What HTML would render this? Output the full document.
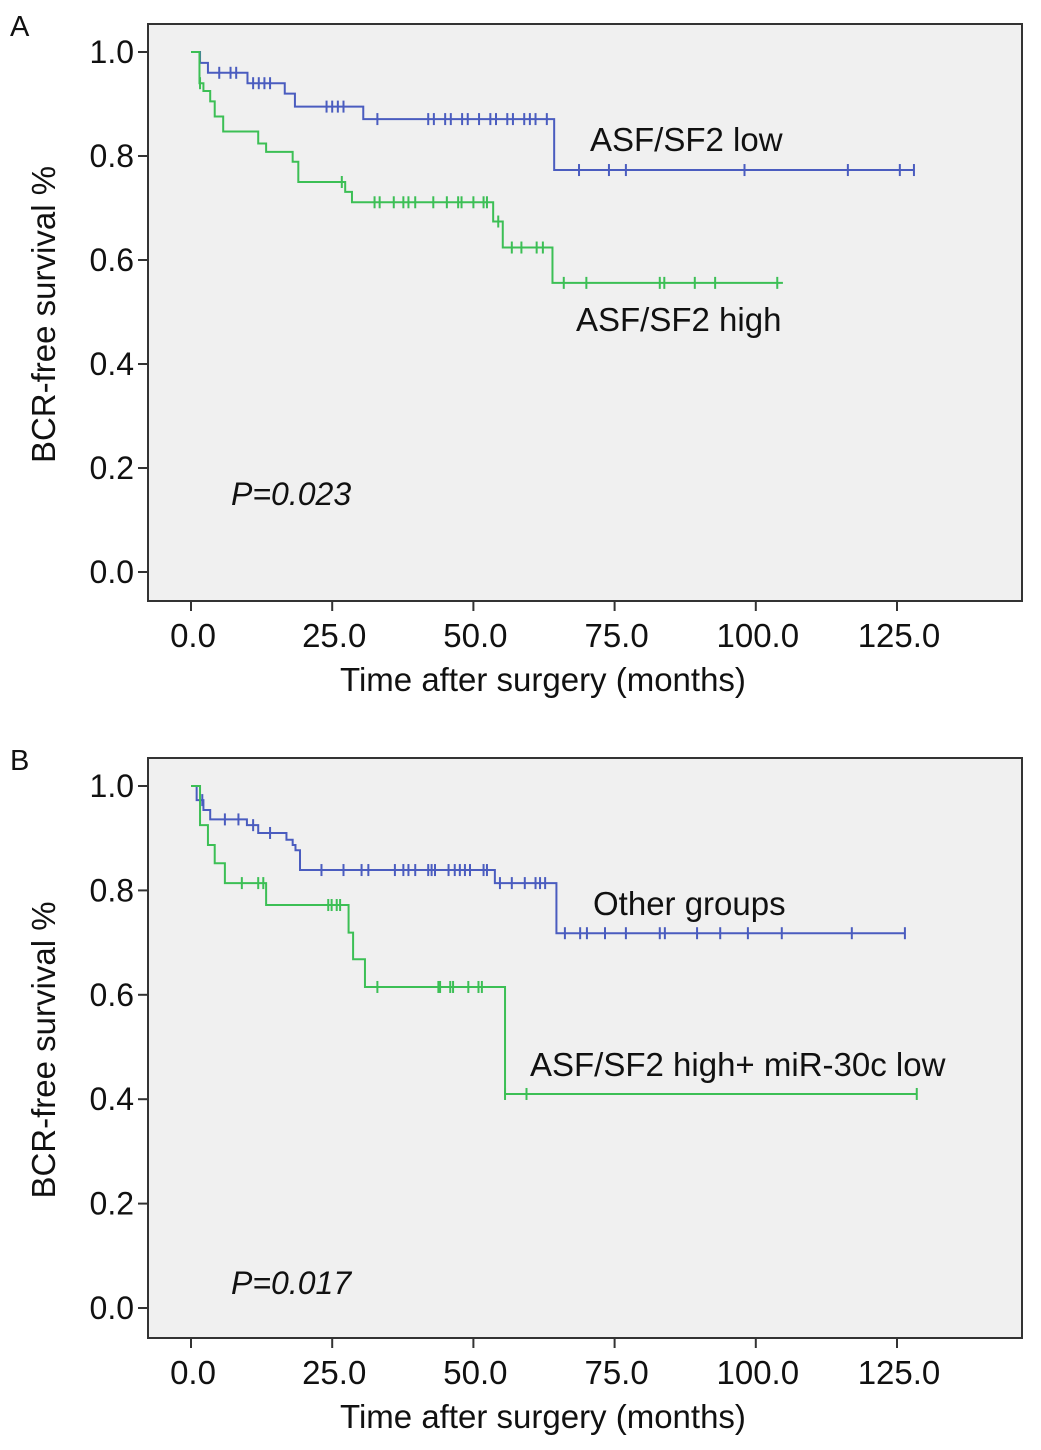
<!DOCTYPE html>
<html><head><meta charset="utf-8"><style>
body{margin:0;background:#fff;}
svg{display:block;font-family:"Liberation Sans",Arial,sans-serif;}
</style></head><body>
<svg id="fig" width="1041" height="1450" viewBox="0 0 1041 1450"></svg>
<script>
// Panel A data
const aLowEvents=[[1.6,0.979],[3,0.96],[10,0.94],[16.6,0.92],[18.4,0.895],[30.5,0.871],[64.3,0.773]];
const aLowCensor=[5,7,8,11,12,13,14,24,25,26,27,33,42,43,45,46,48,49,51,53,54,56,57,59,60,61,63,68.7,74,77,98,116.3,125.5,128];
const aLowEnd=128;
const aHighEvents=[[1.5,0.94],[2.2,0.925],[3.4,0.905],[4.2,0.876],[5.7,0.847],[11.9,0.824],[13.3,0.808],[18,0.789],[19,0.75],[27.3,0.731],[28.5,0.711],[53.5,0.674],[55.2,0.624],[64,0.556]];
const aHighCensor=[1.6,26.7,32.5,33.4,35.9,37.6,38.5,39.7,42.9,45.3,47.3,47.9,50,51.8,52.4,54.4,56.8,58.5,61.2,62.3,66,70,83,83.8,89.2,92.8,103.8];
const aHighEnd=104.8;
// Panel B data
const bOtherEvents=[[1,0.973],[2.2,0.954],[3.4,0.936],[9.9,0.925],[11.9,0.91],[16.9,0.897],[18,0.887],[18.5,0.877],[19.3,0.839],[53.8,0.814],[64.7,0.718]];
const bOtherCensor=[2,6,8.4,11,14,23.1,27,30.2,31.4,36.1,37.6,38.5,39.7,42,42.6,43.2,45.6,46.7,47.6,48.5,49.4,51.8,52.4,54.7,56.8,59.1,61,61.8,62.7,66.2,68.9,70.1,73.3,77,83,83.9,89.6,93.7,98.6,104.6,117,126.4];
const bOtherEnd=126.4;
const bHighEvents=[[1.6,0.925],[3,0.887],[4.2,0.852],[6,0.814],[13.3,0.772],[27.9,0.719],[28.7,0.668],[30.8,0.615],[55.6,0.41]];
const bHighCensor=[9,11.9,12.8,24.3,24.9,25.8,26.4,33,43.8,44.1,45.9,46.4,49.1,50.9,51.5,55.6,59.4,128.5];
const bHighEnd=128.5;
const xTicks=[0,25,50,75,100,125];
const xTickLabels=["0.0","25.0","50.0","75.0","100.0","125.0"];
const yTicks=[0,0.2,0.4,0.6,0.8,1.0];
const yTickLabels=["0.0","0.2","0.4","0.6","0.8","1.0"];

const NS="http://www.w3.org/2000/svg";
const svg=document.getElementById('fig');
function mk(tag,attrs,parent){const e=document.createElementNS(NS,tag);for(const k in attrs)e.setAttribute(k,attrs[k]);(parent||svg).appendChild(e);return e;}

function panel(cfg){
  const g=mk('g',{});
  
  
  const X=t=>191+t*(706/125);
  const Y=s=>cfg.y0-s*(cfg.y0-cfg.y1);
  const bg=mk('rect',{x:148,y:cfg.top,width:874,height:cfg.bottom-cfg.top,fill:'#f0f0f0',stroke:'#333','stroke-width':2},g);
  
  
  const pl=mk('text',{x:10,y:cfg.top+12,'font-size':29,fill:'#111'},g);
  pl.textContent=cfg.letter;
  
  
  yTicks.forEach((v,i)=>{
    const y=Y(v);
    mk('line',{x1:138,x2:148,y1:y,y2:y,stroke:'#333','stroke-width':2},g);
    const t=mk('text',{x:134,y:y+11,'font-size':32,'text-anchor':'end',fill:'#111'},g);
    t.textContent=yTickLabels[i];
    
    
  });
  xTicks.forEach((v,i)=>{
    const x=X(v);
    mk('line',{x1:x,x2:x,y1:cfg.bottom,y2:cfg.bottom+10,stroke:'#333','stroke-width':2},g);
    const t=mk('text',{x:x+2,y:cfg.bottom+46,'font-size':33,'text-anchor':'middle',fill:'#111'},g);
    t.textContent=xTickLabels[i];
    
    
  });
  const xt=mk('text',{x:543,y:cfg.bottom+90,'font-size':33,'text-anchor':'middle',fill:'#111'},g);
  xt.textContent='Time after surgery (months)';
  
  
  const cy=(cfg.top+cfg.bottom)/2+2;
  const yt=mk('text',{x:55,y:cy,'font-size':33,'text-anchor':'middle',fill:'#111',transform:`rotate(-90 55 ${cy})`},g);
  yt.textContent='BCR-free survival %';
  
  
  cfg.series.forEach(s=>{
    let d=`M${X(0)},${Y(1)}`;
    s.events.forEach(([t,v])=>{d+=` H${X(t)} V${Y(v)}`;});
    d+=` H${X(s.end)}`;
    const p=mk('path',{d:d,fill:'none',stroke:s.color,'stroke-width':2},g);
    
    
    s.censor.forEach(t=>{
      let v=1;s.events.forEach(([et,ev])=>{if(et<=t)v=ev;});
      const c=mk('line',{x1:X(t),x2:X(t),y1:Y(v)-6,y2:Y(v)+6,stroke:s.color,'stroke-width':2},g);
      
      
    });
    const lb=mk('text',{x:s.lx,y:s.ly,'font-size':33,fill:'#111'},g);
    lb.textContent=s.label;
    
    
  });
  const pv=mk('text',{x:cfg.px,y:cfg.py,'font-size':32,'font-style':'italic',fill:'#111'},g);
  pv.textContent=cfg.p;
  
  
}
const blue='#4a5cbf', green='#3cbf55';
panel({name:'panel-a',letter:'A',top:24,bottom:601,y0:572,y1:52,p:'P=0.023',px:231,py:505,
 series:[{name:'asf-low',events:aLowEvents,censor:aLowCensor,end:aLowEnd,color:blue,label:'ASF/SF2 low',lx:590,ly:151},
         {name:'asf-high',events:aHighEvents,censor:aHighCensor,end:aHighEnd,color:green,label:'ASF/SF2 high',lx:576,ly:331}]});
panel({name:'panel-b',letter:'B',top:758,bottom:1338,y0:1308,y1:786,p:'P=0.017',px:231,py:1294,
 series:[{name:'other-groups',events:bOtherEvents,censor:bOtherCensor,end:bOtherEnd,color:blue,label:'Other groups',lx:593,ly:915},
         {name:'asf-high-mir-low',events:bHighEvents,censor:bHighCensor,end:bHighEnd,color:green,label:'ASF/SF2 high+ miR-30c low',lx:530,ly:1076}]});
</script>
</body></html>
